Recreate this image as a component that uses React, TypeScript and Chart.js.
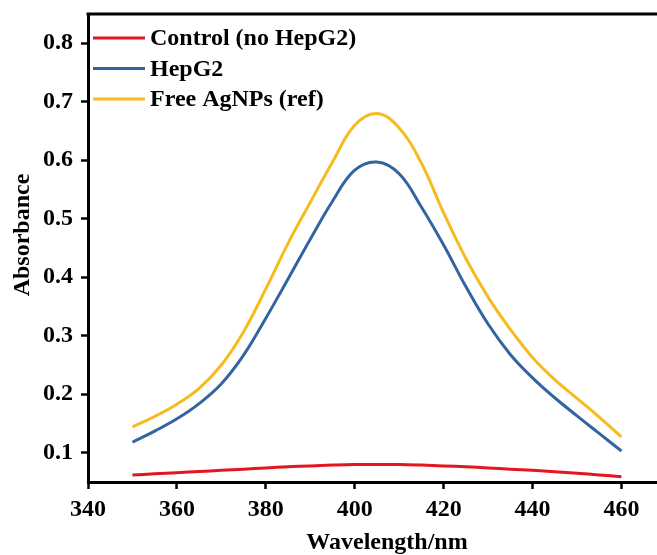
import React, { useEffect, useRef } from "react";
import { Chart, registerables } from "chart.js";

Chart.register(...registerables);

const wavelengths = [350, 355, 360, 365, 370, 375, 380, 385, 390, 395, 400, 405, 410, 415, 420, 425, 430, 435, 440, 445, 450, 455, 460];
const controlValues = [0.062, 0.064, 0.066, 0.068, 0.070, 0.072, 0.074, 0.076, 0.0775, 0.079, 0.080, 0.080, 0.080, 0.079, 0.0775, 0.076, 0.074, 0.072, 0.070, 0.0675, 0.065, 0.062, 0.059];
const hepg2Values = [0.118, 0.137, 0.158, 0.184, 0.218, 0.267, 0.330, 0.397, 0.465, 0.530, 0.583, 0.597, 0.577, 0.520, 0.455, 0.384, 0.320, 0.268, 0.228, 0.194, 0.163, 0.133, 0.103];
const freeValues = [0.144, 0.162, 0.183, 0.210, 0.250, 0.307, 0.380, 0.458, 0.528, 0.597, 0.660, 0.680, 0.655, 0.595, 0.510, 0.432, 0.366, 0.311, 0.263, 0.225, 0.193, 0.161, 0.127];

const seriesLabels = ["Control (no HepG2)", "HepG2", "Free AgNPs (ref)"];
const seriesColors = ["#e5161f", "#3265a0", "#f6bb1f"];

const xTicks = [340, 360, 380, 400, 420, 440, 460];
const yTicks = [0.1, 0.2, 0.3, 0.4, 0.5, 0.6, 0.7, 0.8];
const xTitle = "Wavelength/nm";
const yTitle = "Absorbance";

const FONT = "'Liberation Serif', 'Times New Roman', serif";

const framePlugin = {
  id: "frameAndLegend",
  afterDraw(chart: any) {
    const { ctx, chartArea } = chart;
    ctx.save();
    // top frame line
    ctx.strokeStyle = "#000";
    ctx.lineWidth = 3;
    ctx.beginPath();
    ctx.moveTo(chartArea.left - 1.5, chartArea.top);
    ctx.lineTo(chartArea.right + 2, chartArea.top);
    ctx.stroke();

    // legend
    ctx.font = `bold 24px ${FONT}`;
    ctx.textBaseline = "middle";
    ctx.textAlign = "left";
    chart.data.datasets.forEach((ds: any, i: number) => {
      const y = chartArea.top + 24 + i * 30.5;
      ctx.strokeStyle = ds.borderColor;
      ctx.lineWidth = 3;
      ctx.beginPath();
      ctx.moveTo(chartArea.left + 5, y);
      ctx.lineTo(chartArea.left + 57, y);
      ctx.stroke();
      ctx.fillStyle = "#000";
      ctx.fillText(ds.label, chartArea.left + 62, y + 1);
    });

    // axis titles
    ctx.fillStyle = "#000";
    ctx.textAlign = "center";
    ctx.textBaseline = "alphabetic";
    ctx.fillText(xTitle, 387, 549);
    ctx.translate(29, 235);
    ctx.rotate(-Math.PI / 2);
    ctx.fillText(yTitle, 0, 0);
    ctx.restore();
  },
};

export default function App() {
  const ref = useRef<HTMLCanvasElement | null>(null);
  useEffect(() => {
    if (!ref.current) return;
    const datasets = [controlValues, hepg2Values, freeValues].map((vals, i) => ({
      label: seriesLabels[i],
      data: wavelengths.map((w, j) => ({ x: w, y: vals[j] })),
      borderColor: seriesColors[i],
      backgroundColor: seriesColors[i],
      borderWidth: 3,
      pointRadius: 0,
      tension: 0.4,
      fill: false,
    }));
    const tickFont = { family: FONT, size: 24, weight: "bold" as const };
    const chart = new Chart(ref.current, {
      type: "line",
      data: { datasets },
      plugins: [framePlugin],
      options: {
        animation: false,
        responsive: true,
        maintainAspectRatio: false,
        layout: { padding: { top: 14, right: 0, left: 0, bottom: 0 } },
        plugins: { legend: { display: false }, tooltip: { enabled: false } },
        scales: {
          x: {
            type: "linear",
            min: 340,
            max: 468,
            afterBuildTicks: (s: any) => {
              s.ticks = xTicks.map((v) => ({ value: v }));
            },
            afterFit: (s: any) => {
              s.height = 73;
              s.paddingLeft = 0;
              s.paddingRight = 0;
            },
            ticks: { font: tickFont, color: "#000", padding: 6, maxRotation: 0, autoSkip: false },
            grid: { drawOnChartArea: false, drawTicks: true, tickLength: 7, tickWidth: 2.5, color: "#000" },
            border: { display: true, color: "#000", width: 3 },
          },
          y: {
            type: "linear",
            min: 0.05,
            max: 0.85,
            afterBuildTicks: (s: any) => {
              s.ticks = yTicks.map((v) => ({ value: v }));
            },
            afterFit: (s: any) => {
              s.width = 88;
              s.paddingTop = 0;
              s.paddingBottom = 0;
            },
            ticks: {
              font: tickFont,
              color: "#000",
              padding: 8,
              autoSkip: false,
              callback: (v: any) => Number(v).toFixed(1),
            },
            grid: { drawOnChartArea: false, drawTicks: true, tickLength: 7, tickWidth: 2.5, color: "#000" },
            border: { display: true, color: "#000", width: 3 },
          },
        },
      },
    });
    return () => chart.destroy();
  }, []);
  return (
    <div style={{ position: "fixed", left: 0, top: 0, width: 657, height: 555, background: "#fff" }}>
      <canvas ref={ref} />
    </div>
  );
}
